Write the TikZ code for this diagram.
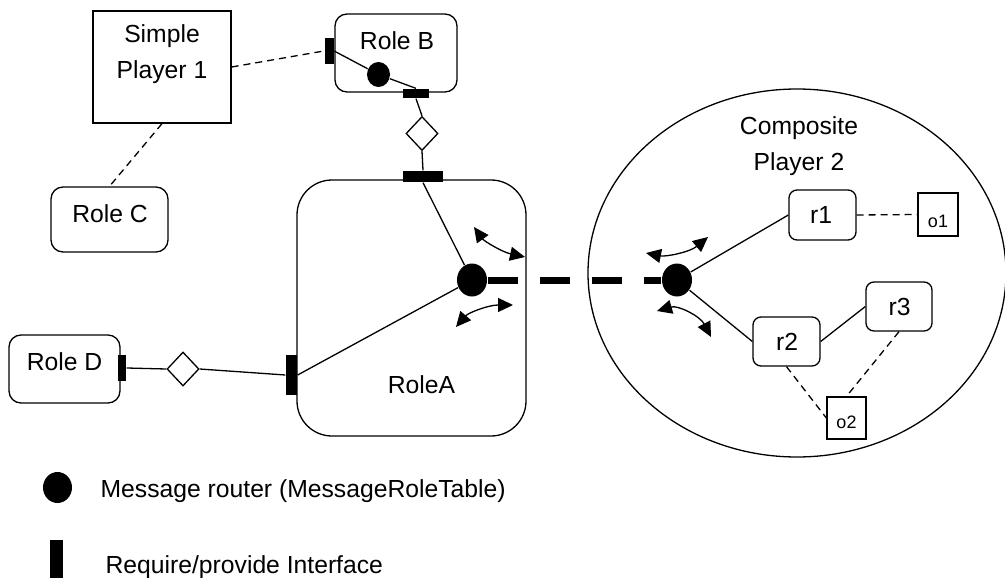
\documentclass[tikz,border=0pt]{standalone}
\usepackage{fontspec}
\setmainfont{Liberation Sans}
\usetikzlibrary{shapes.geometric,arrows.meta}

\tikzset{
  every picture/.style={line width=1.3pt},
  lbl/.style={inner sep=0pt, font=\fontsize{24.7}{35}\selectfont},
  small/.style={inner sep=0pt, font=\fontsize{18}{22}\selectfont},
  rolebox/.style={draw, rounded corners=12pt, inner sep=0pt},
  subrole/.style={draw, rounded corners=8pt, inner sep=0pt},
  plainbox/.style={draw, inner sep=0pt},
  iface/.style={fill=black, draw=none, inner sep=0pt},
  router/.style={ellipse, fill=black, draw=none, inner sep=0pt,
                 minimum width=30pt, minimum height=33pt},
  gate/.style={diamond, draw, fill=white, inner sep=0pt,
               minimum width=32pt, minimum height=34pt},
  playlink/.style={dash pattern=on 7pt off 5pt},
  bus/.style={line width=7pt, dash pattern=on 30pt off 22pt},
  msg/.style={{Triangle[length=15pt,width=14pt]}-{Triangle[length=15pt,width=14pt]}}
}

\begin{document}
\begin{tikzpicture}[x=1pt, y=-1pt]
\useasboundingbox (0,0) rectangle (1005,578);

% --- players ---
\node[plainbox, minimum width=138pt, minimum height=112pt] (sp1) at (162,67) {};
\node[lbl, anchor=base] (sp1a) at (162,43) {Simple};
\node[lbl, anchor=base] (sp1b) at (162,78) {Player 1};

\node[ellipse, draw, inner sep=0pt, minimum width=418pt, minimum height=368pt] (cp) at (797,273) {};
\node[lbl, anchor=base] (cpa) at (799,135) {Composite};
\node[lbl, anchor=base] (cpb) at (799,170) {Player 2};

% --- roles ---
\node[rolebox, minimum width=122pt, minimum height=78pt] (roleB) at (396,53) {};
\node[lbl, anchor=base] (roleBt) at (397,50) {Role B};

\node[rolebox, minimum width=117pt, minimum height=65pt] (roleC) at (109.5,219.5) {};
\node[lbl, anchor=base] (roleCt) at (110,222) {Role C};

\node[rolebox, minimum width=111pt, minimum height=68pt] (roleD) at (64.5,369) {};
\node[lbl, anchor=base] (roleDt) at (64.5,370) {Role D};

\node[draw, rounded corners=35pt, inner sep=0pt, minimum width=229pt, minimum height=256pt] (roleA) at (411.5,308) {};
\node[lbl, anchor=base] (roleAt) at (421.5,393) {RoleA};

% --- interfaces ---
\node[iface, minimum width=9pt, minimum height=26pt] (bL) at (329,51) {};
\node[iface, minimum width=26pt, minimum height=9pt] (bS) at (416,93.5) {};
\node[iface, minimum width=40pt, minimum height=11pt] (aT) at (423,176.5) {};
\node[iface, minimum width=11pt, minimum height=40pt] (aL) at (291.5,375) {};
\node[iface, minimum width=8pt, minimum height=26pt] (dR) at (122,368) {};

% --- routers and gates ---
\node[router, minimum width=23pt, minimum height=25pt] (rB) at (378.5,74.5) {};
\node[router] (rA) at (472,280) {};
\node[router] (rC) at (677,280) {};
\node[gate] (gB) at (422,133.5) {};
\node[gate] (gD) at (183,369) {};

% --- inner roles of the composite player ---
\node[subrole, minimum width=67pt, minimum height=50pt] (r1) at (822.5,215) {};
\node[lbl, anchor=base] (r1t) at (821,223) {r1};
\node[subrole, minimum width=67pt, minimum height=49pt] (r2) at (786.5,341.5) {};
\node[lbl, anchor=base] (r2t) at (787,350) {r2};
\node[subrole, minimum width=66pt, minimum height=49pt] (r3) at (899,306.5) {};
\node[lbl, anchor=base] (r3t) at (899.5,315) {r3};
\node[plainbox, minimum width=40pt, minimum height=43pt] (o1) at (938,214.5) {};
\node[small, anchor=base] (o1t) at (938,227) {o1};
\node[plainbox, minimum width=39pt, minimum height=42pt] (o2) at (846.5,418) {};
\node[small, anchor=base] (o2t) at (846.5,428) {o2};

% --- connectors ---
\draw[playlink] (sp1.east) -- (bL.west);
\draw[playlink] (sp1.south) -- (roleC.north);
\draw (bL.east) -- (rB);
\draw (rB) -- (bS.north);
\draw (bS.south) -- (gB.north);
\draw (gB.south) -- (aT.north);
\draw (aT.south) -- (rA);
\draw (rA) -- (aL.east);
\draw (dR.east) -- (gD.west);
\draw (gD.east) -- (aL.west);
\draw[bus] (rA.east) -- (rC.west);
\draw (rC) -- (r1.west);
\draw (rC) -- (r2.west);
\draw (r2.east) -- (r3.west);
\draw[playlink] (r1.east) -- (o1.west);
\draw[playlink] (r2.south) -- (o2.west);
\draw[playlink] (r3.south) -- (o2.north);

% --- message flow arrows ---
\coordinate (m1a) at (474,227);
\coordinate (m1b) at (525,257);
\coordinate (m2a) at (456,327);
\coordinate (m2b) at (513,305);
\coordinate (m3a) at (646,253);
\coordinate (m3b) at (708,237);
\coordinate (m4a) at (657,311);
\coordinate (m4b) at (711,337);
\draw[msg] (m1a) .. controls (484,241) and (502,252) .. (m1b);
\draw[msg] (m2a) .. controls (468,313) and (488,305) .. (m2b);
\draw[msg] (m3a) .. controls (666,257) and (690,252) .. (m3b);
\draw[msg] (m4a) .. controls (678,305) and (700,316) .. (m4b);

% --- legend ---
\node[router, minimum width=29pt, minimum height=31pt] (legR) at (57.5,487.5) {};
\node[lbl, anchor=base west] (legRt) at (100,497) {Message router (MessageRoleTable)};
\node[iface, minimum width=13pt, minimum height=38pt] (legI) at (56.5,559) {};
\node[lbl, anchor=base west] (legIt) at (105,573) {Require/provide Interface};
\end{tikzpicture}
\end{document}
